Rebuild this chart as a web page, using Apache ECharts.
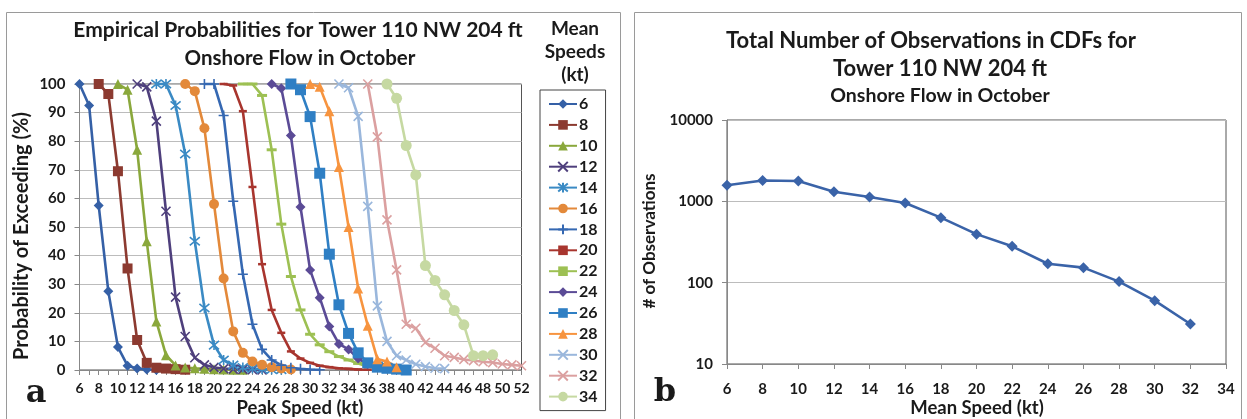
<!DOCTYPE html>
<html><head><meta charset="utf-8">
<script src="https://cdn.jsdelivr.net/npm/echarts@6/dist/echarts.min.js"></script>
<style>html,body{margin:0;padding:0;background:#fff}#c{width:1247px;height:419px}</style>
</head><body><div id="c"></div>
<script>
// ---------- Data: panel a ----------
const meanSpeeds = [6, 8, 10, 12, 14, 16, 18, 20, 22, 24, 26, 28, 30, 32, 34];
const startPeak  = [6, 8, 10, 12, 14, 17, 19, 21, 23, 26, 28, 30, 33, 36, 38];
const p6  = [100, 92.5, 57.5, 27.5, 8, 1.5, 0.5, 0.2, 0];
const p8  = [100, 96.5, 69.5, 35.5, 10.5, 2.5, 0.8, 0.5, 0.3, 0.1];
const p10 = [100, 98, 77, 45, 17, 5.2, 1.6, 0.9, 0.6, 0.4, 0.3, 0.2, 0.1, 0.1];
const p12 = [100, 99, 87, 55.5, 25.5, 11.7, 4.3, 1.8, 0.9, 0.5, 0.3, 0.2, 0.1, 0];
const p14 = [100, 100, 92.5, 75.5, 45, 21.7, 8.7, 3.5, 1.7, 0.9, 0.5, 0.3, 0.2, 0.1];
const p16 = [100, 97.5, 84.5, 58, 32, 13.5, 6, 3, 1.8, 1, 0.5, 0.2];
const p18 = [100, 100, 89, 59, 33.5, 16, 7.2, 3.5, 1.7, 0.8, 0.4, 0.2, 0.1];
const p20 = [100, 99.5, 90.5, 64, 37, 21, 13, 6.5, 4, 2.5, 1.5, 1, 0.6, 0.4, 0.2, 0.1];
const p22 = [100, 100, 96, 77, 51, 32.7, 21, 12.5, 8.8, 6.4, 4.7, 3.5, 2.3, 1.2, 0.5];
const p24 = [100, 98.5, 82, 57, 35, 25.3, 15.2, 9.1, 7.2, 4, 2, 1, 0.5, 0.2];
const p26 = [100, 98, 88.6, 68.8, 40.5, 22.8, 12.8, 6, 2.5, 1, 0.6, 0.3, 0];
const p28 = [100, 99, 90.5, 71, 50, 28.5, 15.5, 3.8, 3, 1];
const p30 = [100, 98.7, 88.7, 57.2, 22.4, 10, 5, 3.5, 2, 1.2, 0.6, 0.5];
const p32 = [100, 81.5, 52.5, 35, 16, 14.6, 9.6, 7.6, 5, 4.4, 3.7, 3.3, 2.9, 2.6, 2.1, 1.8, 1.5];
const p34 = [100, 95, 78.5, 68.2, 36.5, 31.3, 26.3, 20.8, 15.8, 5, 5, 5.3];
const probs = [p6, p8, p10, p12, p14, p16, p18, p20, p22, p24, p26, p28, p30, p32, p34];

// ---------- Data: panel b ----------
const obsSpeeds = [6, 8, 10, 12, 14, 16, 18, 20, 22, 24, 26, 28, 30, 32];
const obsCounts = [1580, 1800, 1780, 1310, 1130, 955, 630, 395, 280, 171, 153, 103, 60, 31];

// ---------- Styles ----------
const FONT = 'Lato';
const colors = ['#3560a6', '#8c3a30', '#8aa83c', '#4e3f7c', '#3a8ac4', '#e3893a', '#3568b2',
                '#a8352e', '#9dc053', '#5b4b96', '#2f7fc4', '#f7943f', '#9ab7dc', '#dba0a0', '#c6d9a2'];
const X_PATH = 'path://M0,0L10,10M10,0L0,10';
const STAR_PATH = 'path://M0,0L10,10M10,0L0,10M5,-1L5,11';
const PLUS_PATH = 'path://M5,0L5,10M0,5L10,5';
const symbols = ['diamond', 'rect', 'triangle', X_PATH, STAR_PATH, 'circle', PLUS_PATH,
                 'rect', 'rect', 'diamond', 'rect', 'triangle', X_PATH, X_PATH, 'circle'];
const sizes = [10, 10, 10, 9, 10, 10, 10, [8, 2.5], [10, 3], 10, 11, 10, 9, 9, 11];
const stroked = [false, false, false, true, true, false, true, false, false, false, false, false, true, true, false];

const seriesA = meanSpeeds.map((m, i) => ({
  type: 'line', name: String(m), xAxisIndex: 0, yAxisIndex: 0,
  data: probs[i].map((v, k) => [startPeak[i] + k, v]),
  symbol: symbols[i], symbolSize: sizes[i], showAllSymbol: true, clip: false,
  color: colors[i],
  lineStyle: { width: 2.6, color: colors[i] },
  itemStyle: { color: colors[i], borderColor: colors[i], borderWidth: stroked[i] ? 1.6 : 0 },
  emphasis: { disabled: true }, animation: false
}));

const seriesB = {
  type: 'line', name: 'Observations', xAxisIndex: 1, yAxisIndex: 1,
  data: obsSpeeds.map((s, i) => [s, obsCounts[i]]),
  symbol: 'diamond', symbolSize: 11, color: '#3a63a8', clip: false,
  lineStyle: { width: 2.6, color: '#3a63a8' }, itemStyle: { color: '#3a63a8' },
  emphasis: { disabled: true }, animation: false
};

function txt(text, x, y, size, opts) {
  opts = opts || {};
  return {
    type: 'text', x: x, y: y, rotation: opts.rot || 0, silent: true,
    style: {
      text: text, fill: opts.color || '#1a1a1a',
      font: (opts.weight || 'bold') + ' ' + size + 'px ' + (opts.family || FONT),
      textAlign: 'center', align: 'center', textVerticalAlign: 'middle', verticalAlign: 'middle'
    }
  };
}

const labelStyle = { fontFamily: FONT, fontWeight: 'bold', color: '#1a1a1a' };

const option = {
  backgroundColor: '#fff',
  animation: false,
  grid: [
    { left: 79.5, top: 84, width: 442, height: 286, show: true, borderColor: '#555', borderWidth: 1, backgroundColor: 'transparent' },
    { left: 727, top: 120, width: 499, height: 244, show: true, borderColor: '#555', borderWidth: 1, backgroundColor: 'transparent' }
  ],
  xAxis: [
    { gridIndex: 0, type: 'value', min: 6, max: 52, interval: 2,
      axisLine: { show: true, lineStyle: { color: '#888', width: 1 } },
      axisTick: { show: true, length: 5, lineStyle: { color: '#888' } },
      minorTick: { show: true, splitNumber: 2, length: 5, lineStyle: { color: '#888' } },
      splitLine: { show: false },
      axisLabel: Object.assign({ fontSize: 14, margin: 11 }, labelStyle) },
    { gridIndex: 1, type: 'value', min: 6, max: 34, interval: 2,
      axisLine: { show: true, lineStyle: { color: '#888', width: 1 } },
      axisTick: { show: true, length: 5, lineStyle: { color: '#888' } },
      splitLine: { show: false },
      axisLabel: Object.assign({ fontSize: 15, margin: 18 }, labelStyle) }
  ],
  yAxis: [
    { gridIndex: 0, type: 'value', min: 0, max: 100, interval: 10,
      axisLine: { show: true, lineStyle: { color: '#888', width: 1 } },
      axisTick: { show: true, length: 5, lineStyle: { color: '#888' } },
      splitLine: { show: true, lineStyle: { color: '#bcbcbc', width: 1 } },
      axisLabel: Object.assign({ fontSize: 15, margin: 14 }, labelStyle) },
    { gridIndex: 1, type: 'log', logBase: 10, min: 10, max: 10000,
      axisLine: { show: true, lineStyle: { color: '#888', width: 1 } },
      axisTick: { show: true, length: 5, lineStyle: { color: '#888' } },
      minorTick: { show: false },
      splitLine: { show: true, lineStyle: { color: '#bcbcbc', width: 1 } },
      axisLabel: Object.assign({ fontSize: 15, margin: 14, formatter: v => String(Math.round(v)) }, labelStyle) }
  ],
  legend: {
    data: meanSpeeds.map(String),
    orient: 'vertical', left: 540, top: 90, height: 326,
    itemWidth: 28, itemHeight: 12, itemGap: 4.9,
    padding: [6, 8, 6, 8],
    borderColor: '#444', borderWidth: 1,
    selectedMode: false,
    textStyle: { fontFamily: FONT, fontWeight: 'bold', fontSize: 16, lineHeight: 14, color: '#1a1a1a', padding: [0, 0, 0, -3] }
  },
  graphic: [
    { type: 'rect', silent: true, shape: { x: 6.5, y: 12.5, width: 614, height: 420 }, style: { fill: 'none', stroke: '#9a9a9a', lineWidth: 1 } },
    { type: 'rect', silent: true, shape: { x: 634.5, y: 12.5, width: 607, height: 420 }, style: { fill: 'none', stroke: '#9a9a9a', lineWidth: 1 } },
    txt('Empirical Probabilities for Tower 110 NW 204 ft', 298, 30, 21),
    txt('Onshore Flow in October', 300, 58, 20.5),
    txt('Mean', 575, 29, 19),
    txt('Speeds', 575, 52, 19),
    txt('(kt)', 575, 75, 19),
    txt('Probability of Exceeding (%)', 22, 236, 20, { rot: Math.PI / 2 }),
    txt('Peak Speed (kt)', 300, 408, 18.5),
    txt('a', 36, 394, 32, { family: 'DejaVu Serif', weight: 'bold' }),
    txt('Total Number of Observations in CDFs for', 931, 41, 22),
    txt('Tower 110 NW 204 ft', 940, 69, 22),
    txt('Onshore Flow in October', 940, 96, 19.5),
    txt('# of Observations', 650, 241, 17, { rot: Math.PI / 2 }),
    txt('Mean Speed (kt)', 977, 408, 18.5),
    txt('b', 665, 393, 32, { family: 'DejaVu Serif', weight: 'bold' })
  ],
  series: seriesA.concat([seriesB])
};

const chart = echarts.init(document.getElementById('c'), null, { renderer: 'canvas' });
chart.setOption(option);
</script>
</body></html>
